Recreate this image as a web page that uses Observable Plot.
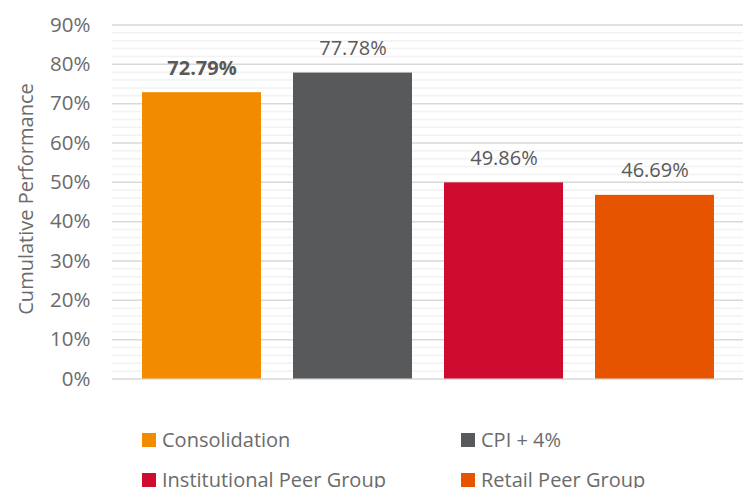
<!DOCTYPE html>
<html>
<head>
<meta charset="utf-8">
<script src="https://cdn.jsdelivr.net/npm/d3@7"></script>
<script src="https://cdn.jsdelivr.net/npm/@observablehq/plot@0.6"></script>
<style>
  html, body { margin: 0; padding: 0; background: #fff; }
  #wrap { position: relative; width: 745px; height: 488px; overflow: hidden; font-family: "Open Sans", sans-serif; }
  #legend { position: absolute; left: 0; top: 395px; width: 745px; height: 93px; }
  .item { position: absolute; height: 20px; line-height: 20px; display: flex; align-items: center; font-size: 20px; color: #6b6b6b; white-space: nowrap; }
  .sw { width: 14px; height: 14px; margin-right: 6px; flex: none; }
</style>
</head>
<body>
<div id="wrap">
  <div id="chart"></div>
  <div id="legend"></div>
</div>
<script>
const categories = ["Consolidation", "CPI + 4%", "Institutional Peer Group", "Retail Peer Group"];
const values = [0.7279, 0.7778, 0.4986, 0.4669];
const valueLabels = ["72.79%", "77.78%", "49.86%", "46.69%"];
const colors = ["#F28B00", "#58595B", "#D00B30", "#E65400"];
const majorTicks = [0, 0.1, 0.2, 0.3, 0.4, 0.5, 0.6, 0.7, 0.8, 0.9];
const minorTicks = [0.02, 0.04, 0.06, 0.08, 0.12, 0.14, 0.16, 0.18, 0.22, 0.24, 0.26, 0.28,
  0.32, 0.34, 0.36, 0.38, 0.42, 0.44, 0.46, 0.48, 0.52, 0.54, 0.56, 0.58, 0.62, 0.64, 0.66, 0.68,
  0.72, 0.74, 0.76, 0.78, 0.82, 0.84, 0.86, 0.88];
const yTitle = "Cumulative Performance";

const data = categories.map((c, i) => ({cat: c, value: values[i], label: valueLabels[i], bold: i === 0}));

const chart = Plot.plot({
  width: 745,
  height: 395,
  marginLeft: 112,
  marginRight: 2,
  marginTop: 24.5,
  marginBottom: 16.5,
  style: {fontFamily: "Open Sans, sans-serif", background: "#fff"},
  x: {type: "band", domain: categories, range: [126, 730], paddingInner: 0.212, paddingOuter: 0.106, axis: null},
  y: {domain: [0, 0.9], axis: null},
  color: {domain: categories, range: colors},
  marks: [
    Plot.ruleY(minorTicks, {stroke: "#F2F2F2", strokeWidth: 1.5}),
    Plot.ruleY(majorTicks, {stroke: "#D9D9D9", strokeWidth: 1.5}),
    Plot.barY(data, {x: "cat", y: "value", fill: "cat"}),
    Plot.text(data.filter(d => d.bold), {x: "cat", y: "value", text: "label", dy: -24.5, fontSize: 20, fontWeight: "bold", fill: "#595959"}),
    Plot.text(data.filter(d => !d.bold), {x: "cat", y: "value", text: "label", dy: -24.5, fontSize: 20, fill: "#595959"}),
    Plot.axisY({ticks: majorTicks, tickFormat: d3.format(".0%"), tickSize: 0, tickPadding: 22, fontSize: 20.5, color: "#6b6b6b", label: null}),
    Plot.text([yTitle], {frameAnchor: "left", textAnchor: "middle", rotate: -90, dx: -85.5, dy: -3, fontSize: 20, fill: "#6b6b6b"})
  ]
});
document.getElementById("chart").appendChild(chart);

const legendPos = [[142, 35], [461, 35], [142, 75], [461, 75]];
const legend = document.getElementById("legend");
categories.forEach((c, i) => {
  const it = document.createElement("div");
  it.className = "item";
  it.style.left = legendPos[i][0] + "px";
  it.style.top = legendPos[i][1] + "px";
  const sw = document.createElement("span");
  sw.className = "sw";
  sw.style.background = colors[i];
  const t = document.createElement("span");
  t.textContent = c;
  it.appendChild(sw);
  it.appendChild(t);
  legend.appendChild(it);
});
</script>
</body>
</html>
